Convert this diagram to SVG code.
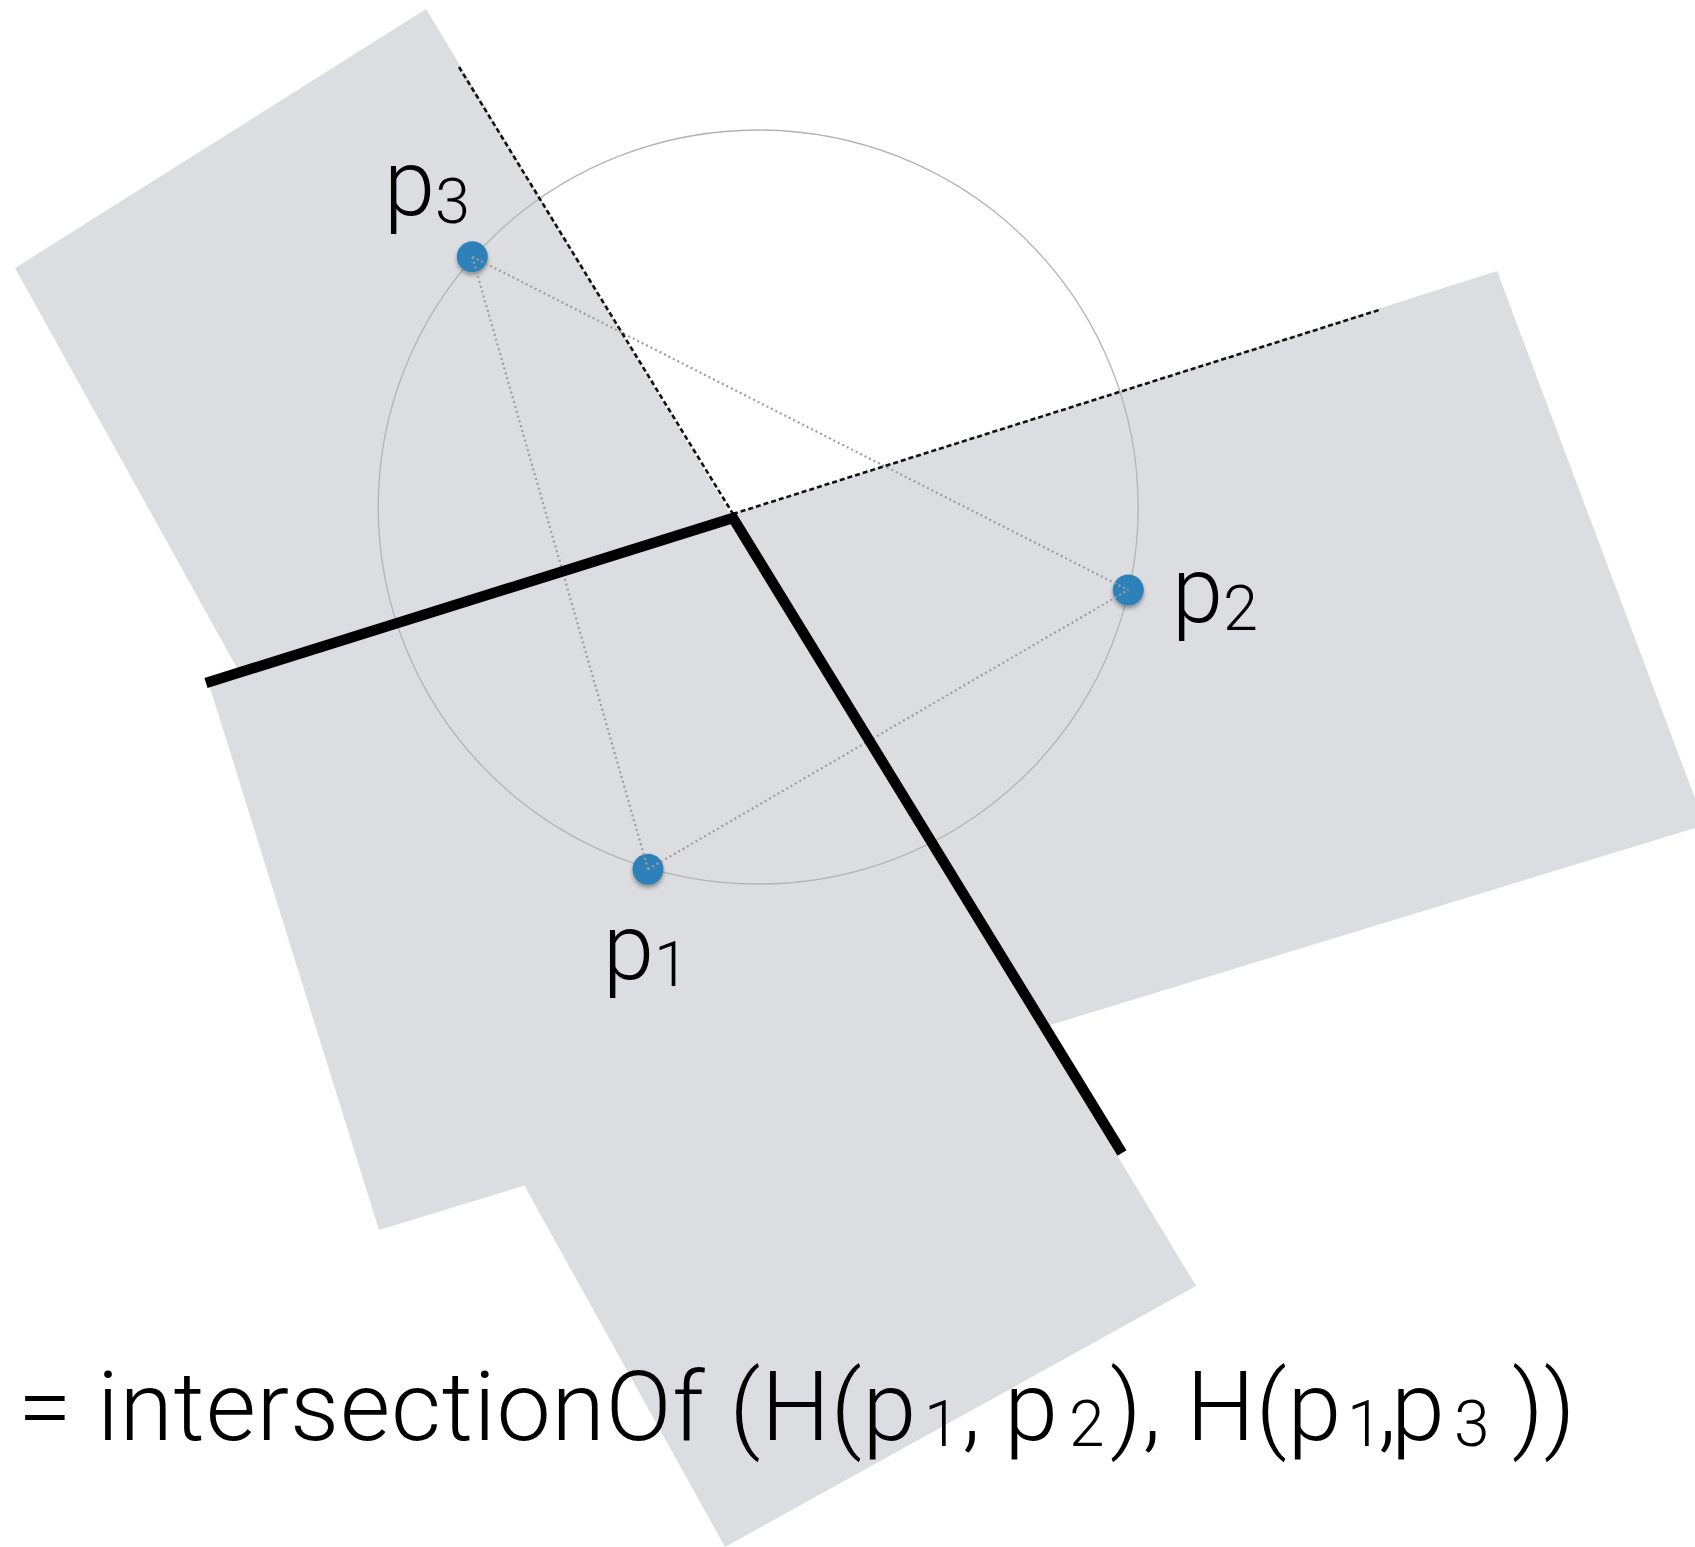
<svg xmlns="http://www.w3.org/2000/svg" width="1695" height="1547" viewBox="0 0 1695 1547">
  <defs>
    <style>
      .plane { fill: #dcdde0; stroke: none; }
      .circ { fill: none; stroke: #b3b3b3; stroke-width: 1.3; }
      .tri { fill: none; stroke: #9d9d9d; stroke-width: 2.2; stroke-dasharray: 2 3; }
      .bis-dash { fill: none; stroke: #111; stroke-width: 2.6; stroke-dasharray: 5 3; }
      .bis-solid { fill: none; stroke: #000; stroke-width: 10.5; stroke-linejoin: miter; }
      .dot { fill: #2f80b9; filter: url(#sh); }
      .lbl { font-family: Roboto, "Liberation Sans", sans-serif; font-weight: 300; font-size: 92px; fill: #000; }
      .sub { font-size: 63px; }
      .eq { font-family: Roboto, "Liberation Sans", sans-serif; font-weight: 300; font-size: 97px; fill: #000; }
      .eqsub { font-size: 64px; }
    </style>
    <filter id="sh" x="-50%" y="-50%" width="200%" height="200%">
      <feDropShadow dx="0" dy="3" stdDeviation="2" flood-color="#000" flood-opacity="0.35"/>
    </filter>
  </defs>

  <rect width="1695" height="1547" fill="#ffffff"/>

  <g id="halfplane-p1p2">
    <polygon class="plane" points="426,9 1196,1286 725,1547 15,268"/>
  </g>
  <g id="halfplane-p1p3">
    <polygon class="plane" points="208,681 1497,271 1705,825 379,1230"/>
  </g>

  <g id="circumcircle">
    <ellipse class="circ" cx="758.2" cy="507" rx="380" ry="377"/>
  </g>

  <g id="p3">
    <circle class="dot" cx="472.3" cy="256.7" r="15.5"/>
    <text class="lbl" x="384" y="215">p<tspan class="sub" dy="8">3</tspan></text>
  </g>
  <g id="p2">
    <circle class="dot" cx="1128.3" cy="590" r="15.5"/>
    <text class="lbl" x="1172" y="622">p<tspan class="sub" dy="8">2</tspan></text>
  </g>
  <g id="p1">
    <circle class="dot" cx="648" cy="869.3" r="15.5"/>
    <text class="lbl" x="603" y="979">p<tspan class="sub" dy="7">1</tspan></text>
  </g>

  <g id="connectors">
    <line class="tri" x1="648" y1="869.3" x2="1128.3" y2="590"/>
    <line class="tri" x1="648" y1="869.3" x2="472.3" y2="256.7"/>
    <line class="tri" x1="472.3" y1="256.7" x2="1128.3" y2="590"/>
  </g>

  <g id="bisectors">
    <line class="bis-dash" x1="459" y1="67" x2="733" y2="514"/>
    <line class="bis-dash" x1="733" y1="514" x2="1379" y2="310"/>
    <polyline class="bis-solid" points="206,683 733,518 1122,1153"/>
  </g>

  <g id="equation">
    <text class="eq" y="1440"><tspan x="18" letter-spacing="0.8">= intersectionOf (H(p</tspan><tspan class="eqsub" x="924" dy="6">1</tspan><tspan x="962" dy="-6">, p</tspan><tspan class="eqsub" x="1069" dy="6">2</tspan><tspan x="1110" dy="-6" letter-spacing="0.8">), H(p</tspan><tspan class="eqsub" x="1347" dy="6">1</tspan><tspan x="1378" dy="-6">,</tspan><tspan x="1391">p</tspan><tspan class="eqsub" x="1454" dy="6">3</tspan><tspan x="1512" dy="-6">))</tspan></text>
  </g>
</svg>
